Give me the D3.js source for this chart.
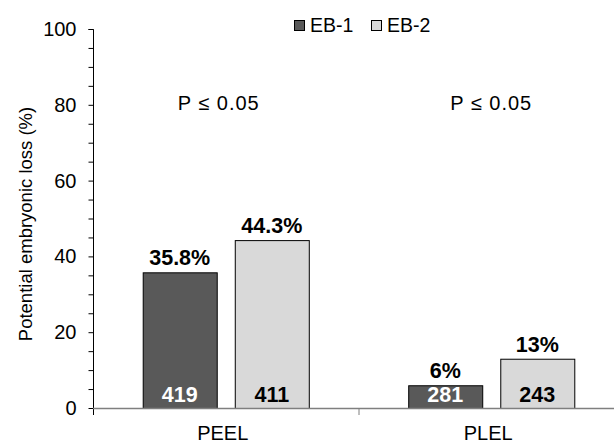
<!DOCTYPE html>
<html>
<head>
<meta charset="utf-8">
<script src="https://cdn.jsdelivr.net/npm/d3@7/dist/d3.min.js"></script>
<style>
  html, body { margin: 0; padding: 0; background: #fff; }
  svg { display: block; font-family: "Liberation Sans", Arial, sans-serif; }
</style>
</head>
<body>
<svg id="chart" width="614" height="443"></svg>
<script>
// Potential embryonic loss by period and group
const categories = ["PEEL", "PLEL"];
const seriesNames = ["EB-1", "EB-2"];
const eb1Values = [35.8, 6];
const eb2Values = [44.3, 13];
const eb1Counts = [419, 281];
const eb2Counts = [411, 243];
const pLabels = ["P \u2264 0.05", "P \u2264 0.05"];
const yTicks = [0, 20, 40, 60, 80, 100];
const yTitle = "Potential embryonic loss (%)";

const colors = { "EB-1": "#595959", "EB-2": "#d9d9d9" };
const countColors = { "EB-1": "#ffffff", "EB-2": "#000000" };

const svg = d3.select("#chart");
const plotLeft = 93, plotRight = 624, plotTop = 29, plotBottom = 408;

const y = d3.scaleLinear().domain([0, 100]).range([plotBottom, plotTop]);
const x0 = d3.scaleBand().domain(categories).range([plotLeft, plotRight]).padding(0);
const x1 = d3.scaleBand().domain(seriesNames).range([0, x0.bandwidth()])
  .paddingInner(0.196).paddingOuter(0.54);

const rows = categories.map((c, i) => ({
  cat: c,
  items: [
    { s: "EB-1", v: eb1Values[i], n: eb1Counts[i] },
    { s: "EB-2", v: eb2Values[i], n: eb2Counts[i] }
  ]
}));

// bars
const g = svg.append("g");
const groups = g.selectAll("g.grp").data(rows).enter().append("g")
  .attr("transform", d => `translate(${x0(d.cat)},0)`);

groups.selectAll("rect").data(d => d.items).enter().append("rect")
  .attr("x", d => x1(d.s) + 0.5)
  .attr("y", d => y(d.v) + 0.5)
  .attr("width", x1.bandwidth())
  .attr("height", d => y(0) - y(d.v))
  .attr("fill", d => colors[d.s])
  .attr("stroke", "#000")
  .attr("stroke-width", 1);

// value labels above bars
groups.selectAll("text.val").data(d => d.items).enter().append("text")
  .attr("x", d => x1(d.s) + x1.bandwidth() / 2)
  .attr("y", d => y(d.v) - 7)
  .attr("text-anchor", "middle")
  .attr("font-size", 21.5).attr("font-weight", "bold").attr("fill", "#000")
  .text(d => d.v + "%");

// counts inside bars
groups.selectAll("text.cnt").data(d => d.items).enter().append("text")
  .attr("x", d => x1(d.s) + x1.bandwidth() / 2)
  .attr("y", y(0) - 6)
  .attr("text-anchor", "middle")
  .attr("font-size", 21.5).attr("font-weight", "bold")
  .attr("fill", d => countColors[d.s])
  .text(d => d.n);

// y axis
const yAxis = d3.axisLeft(y).tickValues(d3.range(0, 101, 5)).tickSize(5)
  .tickFormat(d => yTicks.includes(d) ? d : "");
const ya = svg.append("g").attr("transform", `translate(${plotLeft + 0.5},0)`).call(yAxis);
ya.select(".domain").attr("d", `M-5,${plotTop + 0.5}H0V${plotBottom + 7}`).attr("stroke", "#000");
ya.selectAll(".tick line").attr("stroke", "#000");
ya.selectAll(".tick text").attr("font-size", 20).attr("fill", "#000")
  .attr("x", -17).attr("font-family", "Liberation Sans, Arial, sans-serif");

// x axis
svg.append("line")
  .attr("x1", plotLeft).attr("x2", plotRight)
  .attr("y1", plotBottom + 0.5).attr("y2", plotBottom + 0.5)
  .attr("stroke", "#7f7f7f").attr("stroke-width", 1.5);
svg.selectAll("line.sep").data(categories.slice(1)).enter().append("line")
  .attr("x1", d => x0(d) + 0.5).attr("x2", d => x0(d) + 0.5)
  .attr("y1", plotBottom).attr("y2", plotBottom + 7)
  .attr("stroke", "#7f7f7f");
svg.selectAll("text.cat").data(categories).enter().append("text")
  .attr("x", d => x0(d) + x0.bandwidth() / 2 - 3)
  .attr("y", 440)
  .attr("text-anchor", "middle").attr("font-size", 20).attr("fill", "#000")
  .text(d => d);

// significance notes
const pOffsets = [-7, 0];
svg.selectAll("text.p").data(pLabels).enter().append("text")
  .attr("x", (d, i) => x0(categories[i]) + x0.bandwidth() / 2 + pOffsets[i])
  .attr("y", 110)
  .attr("text-anchor", "middle").attr("font-size", 20).attr("letter-spacing", 1)
  .attr("fill", "#000")
  .text(d => d);

// y title
svg.append("text")
  .attr("transform", `translate(32,224) rotate(-90)`)
  .attr("text-anchor", "middle").attr("font-size", 18.5).attr("fill", "#000")
  .text(yTitle);

// legend
const legendX = [294, 371];
const lg = svg.selectAll("g.leg").data(seriesNames).enter().append("g")
  .attr("transform", (d, i) => `translate(${legendX[i]},20)`);
lg.append("rect").attr("x", 0.5).attr("y", 0.5).attr("width", 10).attr("height", 10)
  .attr("fill", d => colors[d]).attr("stroke", "#000");
lg.append("text").attr("x", 16).attr("y", 12)
  .attr("font-size", 19.5).attr("fill", "#000").text(d => d);
</script>
</body>
</html>
